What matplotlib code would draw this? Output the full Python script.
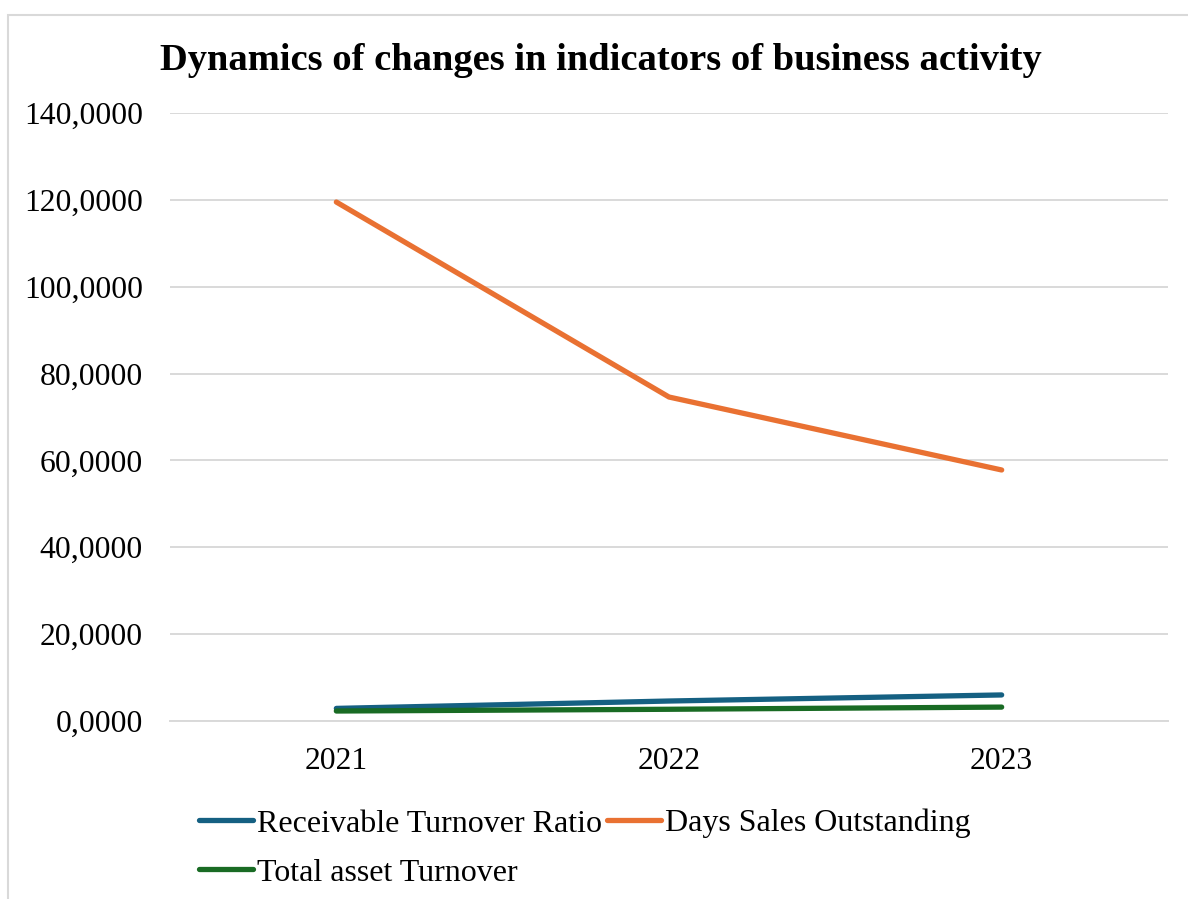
import numpy as np
import matplotlib
matplotlib.use("Agg")
import matplotlib.pyplot as plt
from matplotlib.patches import Rectangle

years = ["2021", "2022", "2023"]
receivable_turnover = [2.9, 4.6, 6.0]
days_sales_outstanding = [119.5, 74.6, 57.8]
total_asset_turnover = [2.3, 2.7, 3.2]
yticks = [0, 20, 40, 60, 80, 100, 120, 140]

plt.rcParams['font.family'] = ['Liberation Serif', 'DejaVu Serif']

W, H = 1188, 899
fig = plt.figure(figsize=(W / 100, H / 100), dpi=100)
ax = fig.add_axes([170 / W, 1 - 721 / H, (1168 - 170) / W, (721 - 113) / H])

x = np.arange(len(years))
l1, = ax.plot(x, receivable_turnover, color='#156082', lw=3.8,
              solid_capstyle='round', label='Receivable Turnover Ratio')
l2, = ax.plot(x, days_sales_outstanding, color='#E97132', lw=3.8,
              solid_capstyle='round', label='Days Sales Outstanding')
l3, = ax.plot(x, total_asset_turnover, color='#196B24', lw=3.8,
              solid_capstyle='round', label='Total asset Turnover')

ax.set_xlim(-0.5, 2.5)
ax.set_ylim(0, 140)
ax.set_xticks(x)
ax.set_xticklabels(years)
ax.set_yticks(yticks)
ax.set_yticklabels([f"{v},0000" if v else "0,0000" for v in yticks])
ax.tick_params(length=0, labelsize=22.8, colors='#000000')
ax.tick_params(axis='x', pad=19)
ax.tick_params(axis='y', pad=19.5)
ax.grid(axis='y', color='#D9D9D9', lw=1.4)
ax.set_axisbelow(True)
for s in ['top', 'right', 'left']:
    ax.spines[s].set_visible(False)
ax.spines['bottom'].set_color('#D9D9D9')
ax.spines['bottom'].set_linewidth(1.4)

fig.text(601 / W, 1 - 60 / H, "Dynamics of changes in indicators of business activity",
         ha='center', va='center', fontsize=27.7, fontweight='bold')

# legend, reordered so it reads row by row
fig.legend([l1, l3, l2], [l1.get_label(), l3.get_label(), l2.get_label()],
           ncol=2, loc='upper left', bbox_to_anchor=(199 / W, 1 - 809 / H),
           frameon=False, fontsize=23, handlelength=1.7, handletextpad=0.12,
           columnspacing=0.15, labelspacing=0.62, borderaxespad=0,
           borderpad=0)

fig.patches.append(Rectangle((7.5 / W, -0.01), 1.1, 1 - 14.5 / H + 0.01,
                             transform=fig.transFigure, fill=False,
                             edgecolor='#D9D9D9', lw=1.5))

fig.savefig("out.png", dpi=100)
